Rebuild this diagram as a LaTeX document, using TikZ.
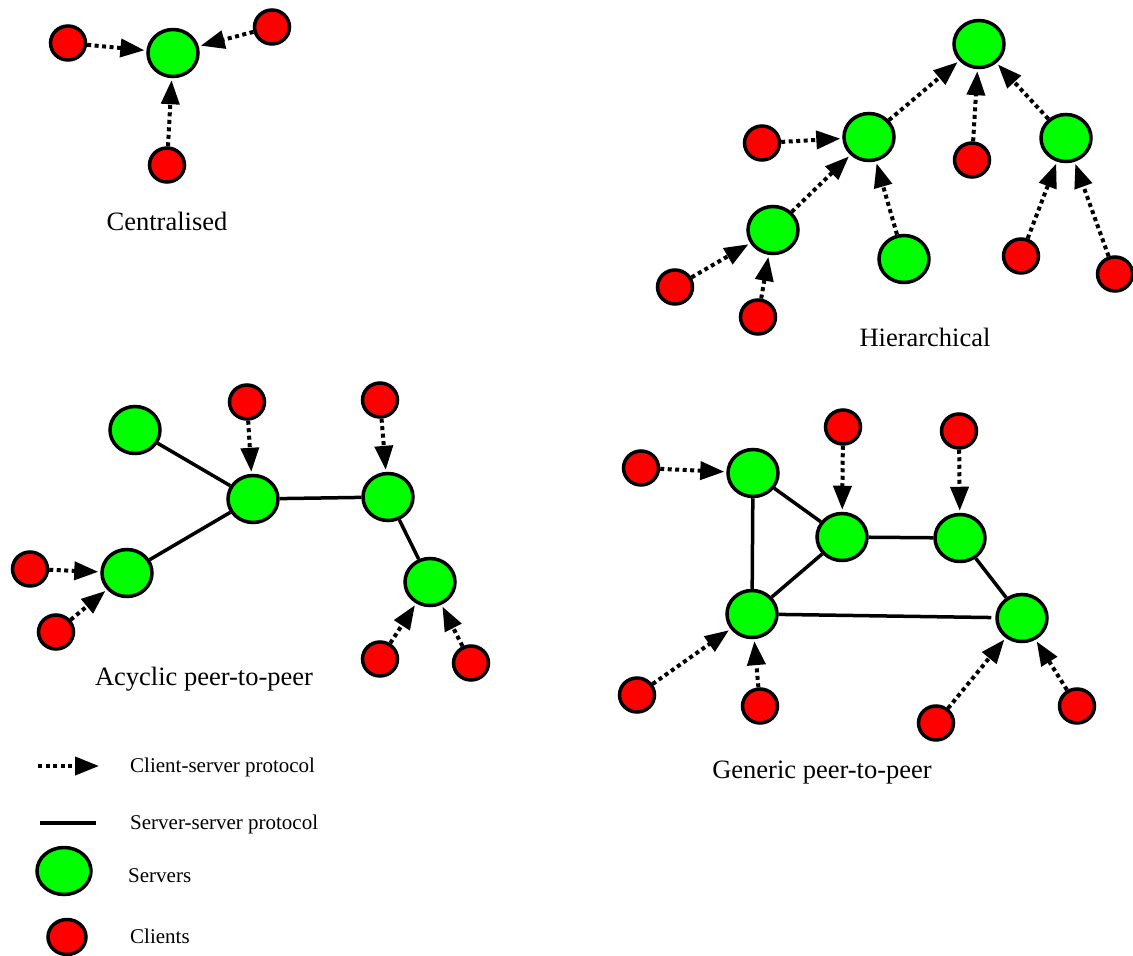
\documentclass[tikz,border=0pt]{standalone}
\usepackage{fontspec}
\setmainfont{Liberation Serif}
\usetikzlibrary{arrows.meta,shapes.geometric}
\definecolor{srvgreen}{RGB}{0,255,0}
\definecolor{clired}{RGB}{255,0,0}
\begin{document}
\begin{tikzpicture}[x=1bp,y=-1bp,
  server/.style={ellipse,draw=black,line width=3.5bp,fill=srvgreen,
                 minimum width=50bp,minimum height=47bp,inner sep=0pt},
  client/.style={ellipse,draw=black,line width=3.5bp,fill=clired,
                 minimum width=35bp,minimum height=34bp,inner sep=0pt},
  cs/.style={line width=4bp,dash pattern=on 4bp off 3.5bp,
             -{Triangle[length=24bp,width=18bp]},shorten >=2bp},
  ss/.style={line width=3.5bp},
  caption/.style={font=\fontsize{26.5bp}{30bp}\selectfont,inner sep=0pt,anchor=base},
  legend/.style={font=\fontsize{21bp}{24bp}\selectfont,inner sep=0pt,anchor=base west}]
\useasboundingbox (0,0) rectangle (1133,956);

% ---------- Centralised ----------
\node[server] (ca)  at (173,53) {};
\node[client] (ca1) at (68,43) {};
\node[client] (ca2) at (272,27) {};
\node[client] (ca3) at (167,165) {};
\draw[cs] (ca1) -- (ca);
\draw[cs] (ca2) -- (ca);
\draw[cs] (ca3) -- (ca);
\node[caption] (tcent) at (167,230) {Centralised};

% ---------- Hierarchical ----------
\node[server] (hr) at (979,44) {};
\node[server] (hm) at (869,137) {};
\node[server] (hs) at (1066,138) {};
\node[server] (hl) at (773,230) {};
\node[server] (hb) at (904,259) {};
\node[client] (hc1) at (762,143) {};
\node[client] (hc2) at (972,160) {};
\node[client] (hc3) at (1021,256) {};
\node[client] (hc4) at (1115,274) {};
\node[client] (hc5) at (675,287) {};
\node[client] (hc6) at (758,317) {};
\draw[cs] (hm) -- (hr);
\draw[cs] (hc2) -- (hr);
\draw[cs] (hs) -- (hr);
\draw[cs] (hc1) -- (hm);
\draw[cs] (hl) -- (hm);
\draw[cs] (hb) -- (hm);
\draw[cs] (hc3) -- (hs);
\draw[cs] (hc4) -- (hs);
\draw[cs] (hc5) -- (hl);
\draw[cs] (hc6) -- (hl);
\node[caption] (thier) at (925,346) {Hierarchical};

% ---------- Acyclic peer-to-peer ----------
\node[server] (at) at (135,430) {};
\node[server] (ac) at (253,499) {};
\node[server] (ar) at (388,497) {};
\node[server] (ad) at (430,582) {};
\node[server] (al) at (127,573) {};
\node[client] (aq1) at (247,402) {};
\node[client] (aq2) at (380,400) {};
\node[client] (aq3) at (30,569) {};
\node[client] (aq4) at (56,632) {};
\node[client] (aq5) at (380,659) {};
\node[client] (aq6) at (471,663) {};
\draw[ss] (at) -- (ac);
\draw[ss] (al) -- (ac);
\draw[ss] (ac) -- (ar);
\draw[ss] (ar) -- (ad);
\draw[cs] (aq1) -- (ac);
\draw[cs] (aq2) -- (ar);
\draw[cs] (aq3) -- (al);
\draw[cs] (aq4) -- (al);
\draw[cs] (aq5) -- (ad);
\draw[cs] (aq6) -- (ad);
\node[caption] (tacyc) at (204,685) {Acyclic peer-to-peer};

% ---------- Generic peer-to-peer ----------
\node[server] (g1) at (753,473) {};
\node[server] (g2) at (842,537) {};
\node[server] (g3) at (960,538) {};
\node[server] (g4) at (752,614) {};
\node[server] (g5) at (1022,618) {};
\node[client] (gc1) at (641,468) {};
\node[client] (gc2) at (843,427) {};
\node[client] (gc3) at (959,431) {};
\node[client] (gc4) at (637,695) {};
\node[client] (gc5) at (760,706) {};
\node[client] (gc6) at (936,723) {};
\node[client] (gc7) at (1077,706) {};
\draw[ss] (g1) -- (g2);
\draw[ss] (g1) -- (g4);
\draw[ss] (g2) -- (g4);
\draw[ss] (g2) -- (g3);
\draw[ss] (g3) -- (g5);
\draw[ss,shorten >=4bp] (g4) -- (g5);
\draw[cs] (gc1) -- (g1);
\draw[cs] (gc2) -- (g2);
\draw[cs] (gc3) -- (g3);
\draw[cs] (gc4) -- (g4);
\draw[cs] (gc5) -- (g4);
\draw[cs] (gc6) -- (g5);
\draw[cs] (gc7) -- (g5);
\node[caption] (tgen) at (822,778) {Generic peer-to-peer};

% ---------- Legend ----------
\coordinate (la) at (38,766);
\coordinate (lb) at (99,766);
\draw[cs,shorten >=0pt] (la) -- (lb);
\node[legend] (lcs) at (130,772) {Client-server protocol};
\coordinate (lc) at (40,823);
\coordinate (ld) at (96,823);
\draw[line width=4bp] (lc) -- (ld);
\node[legend] (lss) at (130,829) {Server-server protocol};
\node[server,minimum width=54bp,minimum height=47bp] (lsrv) at (64,871) {};
\node[legend] (lsv) at (128,882) {Servers};
\node[client,minimum width=38bp,minimum height=35bp] (lcli) at (67,937) {};
\node[legend] (lcl) at (130,943) {Clients};
\end{tikzpicture}
\end{document}
